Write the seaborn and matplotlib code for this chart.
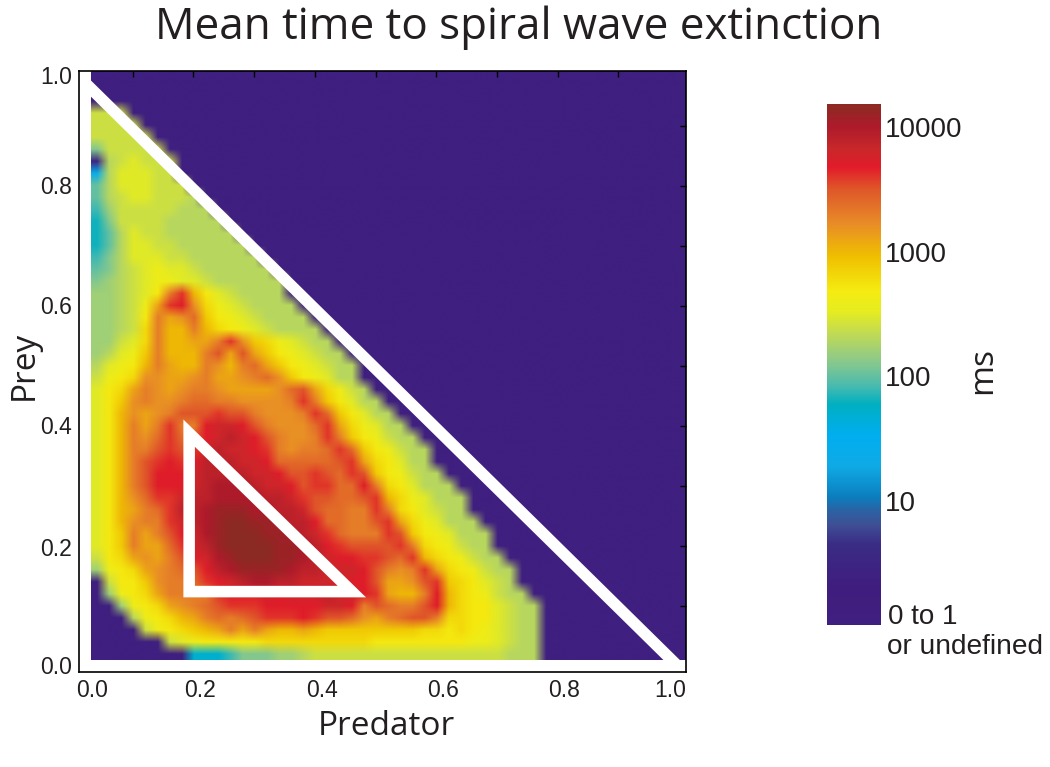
import numpy as np
import pandas as pd
import seaborn as sns
import matplotlib.pyplot as plt
from matplotlib.colors import LinearSegmentedColormap
from matplotlib.patches import Polygon
from matplotlib.transforms import ScaledTranslation

# mean extinction time as 10*log10(ms), rows from prey high to prey low, one list per row
# background rows above the first one listed are all "0 to 1 or undefined"
rows_top = [
    [0], [0], [0],
    [24, 24, 24],
    [24, 24, 24, 24],
    [24, 24, 24, 24, 24],
    [21, 24, 24, 24, 24, 24],
    [5, 23, 24, 25, 24, 24, 24],
    [14, 23, 25, 25, 25, 24, 24],
    [20, 23, 25, 25, 25, 24, 24, 24],
    [20, 23, 24, 25, 25, 24, 24, 24, 23],
    [19, 22, 24, 24, 24, 24, 24, 23, 23, 23],
    [18, 21, 24, 24, 24, 24, 23, 23, 23, 23, 23],
    [18, 20, 23, 25, 24, 24, 23, 23, 23, 23, 23, 23],
    [18, 20, 23, 25, 25, 24, 24, 23, 23, 23, 23, 23, 23],
    [19, 21, 23, 25, 25, 25, 24, 24, 23, 23, 23, 23, 23, 23],
    [20, 21, 23, 24, 25, 26, 25, 25, 24, 23, 23, 23, 23, 23, 23],
    [21, 22, 23, 24, 25, 26, 26, 25, 25, 24, 23, 23, 23, 23, 23, 23],
]
rows_mid = [
    [22, 22, 23, 24, 25, 27, 33, 36, 30, 27, 25, 24, 23, 23, 23, 23],
    [22, 22, 23, 24, 26, 31, 36, 37, 32, 28, 26, 25, 24, 23, 23, 23, 23],
    [22, 22, 23, 24, 27, 33, 31, 32, 34, 29, 27, 26, 25, 24, 23, 23, 23, 23],
    [22, 22, 23, 24, 28, 33, 30, 30, 33, 30, 28, 27, 26, 25, 24, 23, 23, 23, 23],
    [22, 22, 24, 25, 28, 33, 30, 30, 31, 31, 33, 36, 32, 29, 28, 26, 25, 24, 23, 23],
    [22, 23, 25, 26, 29, 33, 30, 30, 30, 33, 35, 31, 35, 31, 29, 27, 26, 25, 24, 23, 23],
    [23, 25, 26, 27, 30, 33, 31, 30, 30, 33, 32, 30, 33, 34, 31, 29, 27, 26, 25, 24, 23, 23],
    [24, 26, 27, 28, 32, 32, 31, 31, 32, 33, 31, 31, 32, 33, 34, 32, 29, 27, 26, 25, 23, 23],
    [25, 27, 28, 31, 33, 32, 31, 32, 33, 33, 32, 31, 31, 31, 31, 32, 34, 35, 31, 28, 26, 24, 23],
    [25, 27, 29, 32, 33, 32, 32, 33, 34, 34, 33, 33, 32, 32, 32, 32, 33, 36, 33, 29, 27, 25, 23, 23],
    [25, 27, 30, 32, 31, 32, 33, 35, 35, 35, 36, 35, 35, 33, 32, 32, 32, 33, 36, 34, 29, 27, 25, 23, 23],
    [25, 27, 30, 33, 31, 33, 36, 33, 33, 37, 38, 38, 37, 35, 33, 32, 32, 32, 34, 36, 31, 28, 26, 25, 23, 23],
    [25, 27, 30, 33, 32, 34, 36, 34, 35, 37, 38, 39, 38, 37, 35, 33, 32, 32, 33, 36, 33, 29, 27, 26, 24, 23, 23],
]
rows_hot = [
    [25, 27, 30, 33, 33, 35, 36, 35, 36, 38, 39, 38, 38, 37, 36, 33, 32, 33, 33, 34, 36, 34, 29, 27, 26, 24, 23, 23],
    [25, 27, 30, 33, 35, 36, 37, 36, 37, 39, 39, 39, 38, 38, 37, 34, 34, 34, 34, 34, 35, 36, 31, 28, 27, 25, 23, 23],
    [25, 27, 30, 33, 35, 37, 37, 37, 38, 39, 39, 39, 39, 38, 38, 37, 35, 35, 36, 35, 34, 36, 35, 29, 27, 26, 24, 23, 23],
    [25, 27, 30, 33, 35, 37, 37, 37, 38, 39, 40, 40, 40, 39, 38, 38, 37, 35, 36, 36, 34, 34, 37, 33, 28, 27, 25, 23, 23, 23],
    [25, 27, 30, 32, 34, 36, 36, 38, 39, 39, 40, 40, 40, 40, 39, 39, 38, 36, 35, 35, 34, 34, 35, 36, 30, 28, 26, 25, 23, 23, 23],
    [25, 27, 30, 31, 33, 34, 36, 39, 39, 40, 41, 41, 41, 40, 40, 39, 39, 38, 35, 34, 34, 33, 33, 36, 33, 28, 27, 25, 24, 23, 23],
    [25, 27, 30, 32, 33, 33, 36, 38, 39, 40, 41, 42, 42, 41, 41, 40, 39, 39, 37, 34, 34, 33, 33, 35, 36, 31, 28, 26, 25, 23, 23, 23],
    [25, 27, 29, 33, 31, 33, 35, 37, 38, 40, 41, 42, 42, 42, 41, 41, 40, 39, 38, 36, 34, 33, 33, 33, 36, 35, 29, 27, 26, 25, 23, 23, 23],
    [25, 27, 29, 33, 31, 31, 34, 36, 38, 39, 41, 42, 42, 42, 42, 41, 41, 40, 39, 37, 36, 35, 35, 35, 35, 36, 33, 28, 27, 26, 24, 23, 23],
    [24, 27, 28, 31, 32, 31, 33, 35, 37, 38, 40, 41, 42, 42, 42, 41, 41, 40, 39, 38, 37, 37, 36, 36, 35, 34, 36, 30, 28, 27, 26, 24, 23, 23],
]
rows_low = [
    [22, 26, 27, 28, 31, 32, 33, 34, 35, 37, 39, 40, 41, 41, 41, 41, 40, 39, 39, 38, 38, 38, 37, 35, 33, 32, 33, 36, 31, 28, 27, 26, 24, 23, 23],
    [0, 24, 27, 27, 29, 32, 33, 33, 34, 36, 37, 38, 39, 40, 40, 39, 39, 38, 38, 38, 38, 37, 37, 35, 31, 31, 32, 35, 36, 29, 28, 27, 25, 24, 23],
    [0, 22, 26, 27, 28, 31, 33, 33, 33, 33, 36, 37, 37, 37, 38, 37, 38, 38, 38, 39, 38, 38, 37, 36, 31, 30, 30, 33, 37, 30, 28, 27, 26, 24, 23, 23],
    [0, 0, 22, 26, 27, 28, 31, 32, 33, 34, 35, 36, 36, 36, 37, 37, 37, 37, 37, 38, 38, 37, 33, 35, 34, 33, 33, 35, 37, 30, 28, 27, 27, 25, 24, 23, 23],
    [0, 0, 0, 23, 26, 27, 28, 30, 31, 33, 34, 33, 34, 35, 36, 36, 36, 37, 36, 35, 35, 34, 32, 31, 33, 34, 35, 35, 33, 28, 28, 27, 27, 25, 24, 23, 23],
    [0, 0, 0, 0, 24, 26, 27, 28, 29, 30, 31, 33, 31, 33, 31, 30, 30, 31, 30, 29, 29, 29, 29, 29, 29, 29, 29, 28, 28, 27, 28, 27, 26, 25, 24, 23, 23],
    [0, 0, 0, 0, 0, 0, 24, 25, 26, 27, 27, 27, 27, 27, 28, 28, 28, 28, 28, 28, 28, 28, 28, 27, 27, 27, 27, 27, 27, 27, 27, 26, 26, 25, 24, 23, 23],
    [0, 0, 0, 0, 0, 0, 0, 0, 17, 17, 17, 19, 21, 21, 21, 22, 22, 23, 24, 24, 24, 24, 24, 24, 24, 24, 24, 24, 24, 24, 24, 24, 24, 24, 23, 23, 23],
]

# colour bar stops: log10(ms) and colour
cbar_stops = [0.0, 0.3, 0.65, 0.8, 0.92, 1.03, 1.27, 1.53, 1.77, 1.92, 2.12, 2.32, 2.52, 2.68, 2.97, 3.23, 3.49, 3.68, 3.83, 4.0, 4.185]
cbar_colors = ["#3F1F7F", "#3F1D7E", "#3A2C85", "#3F4F95", "#2A63A4", "#0B7EBE", "#0FAAE5", "#00AEEF",
               "#00AFC0", "#48BAB0", "#8BC98A", "#BCD85A", "#E5EC20", "#F5EC11", "#EFBE00", "#E88B28",
               "#DF5A29", "#E21B2A", "#C8282A", "#AE1A2B", "#8B2A22"]
cbar_ticks = [0.09, 1, 2, 3, 4]
cbar_labels = ["0 to 1", "10", "100", "1000", "10000"]

tick_labels = ["0.0", "0.2", "0.4", "0.6", "0.8", "1.0"]
x_label_px = [92, 200, 322, 443, 564, 670]
y_label_px = [665, 547, 425, 305, 185, 75]

# white triangles, in (predator, prey)
outer_line = [(0.0115, 0.982), (1.021, -0.023)]
inner_triangle = [(0.193, 0.388), (0.193, 0.124), (0.461, 0.124)]

n = 50
W, H = 1050, 767
L, R, T, B = 79, 686, 71, 672

grid = np.zeros((n, n))
for i, row in enumerate(rows_top + rows_mid + rows_hot + rows_low):
    grid[i, 1:len(row) + 1] = row
grid = grid / 10
# the first column and last row are left blank in the figure, keep neighbours for the smoothing
smooth = grid.copy()
smooth[:, 0] = smooth[:, 1]
smooth[-1, :] = smooth[-2, :]
smooth[-1, 0] = smooth[-2, 1]
grid[:, 0] = np.nan
grid[-1, :] = np.nan
df = pd.DataFrame(grid)

cmap = LinearSegmentedColormap.from_list(
    "ms", [((s - 0) / 4.185, c) for s, c in zip(cbar_stops, cbar_colors)], N=512)
cmap.set_bad("white")

sns.set_theme(style="white")
plt.rcParams['font.family'] = ['Liberation Sans', 'DejaVu Sans']

fig = plt.figure(figsize=(W / 100, H / 100), dpi=100)
ax = fig.add_axes([L / W, 1 - B / H, (R - L) / W, (B - T) / H])
cax = fig.add_axes([827 / W, 1 - 625 / H, 54 / W, 521 / H])

sns.heatmap(df, cmap=cmap, vmin=0, vmax=4.185, ax=ax, cbar_ax=cax,
            cbar_kws={"ticks": cbar_ticks}, xticklabels=False, yticklabels=False)
# reference is a smoothed image, so soften the cells
ax.imshow(smooth, cmap=cmap, vmin=0, vmax=4.185, extent=(0, n, n, 0), aspect="auto",
          interpolation="bilinear", interpolation_stage="rgba", zorder=1.5)
ax.axvspan(0, 1, color="white", lw=0, zorder=1.8)
ax.axhspan(n - 1, n, color="white", lw=0, zorder=1.8)
ax.set_xlim(0, n)
ax.set_ylim(n, 0)
ax.set_axisbelow(False)


# pixel and predator/prey positions to heatmap cells
def xpx(x):
    return (x - L) / (R - L) * n


def ypx(y):
    return (y - T) / (B - T) * n


def xdata(p):
    return xpx(72 + 607 * p)


def ydata(q):
    return ypx(666 - 600 * q)


ax.plot([xdata(p) for p, q in outer_line], [ydata(q) for p, q in outer_line],
        color="white", lw=8.3, solid_capstyle="butt", zorder=2)
ax.add_patch(Polygon([(xdata(p), ydata(q)) for p, q in inner_triangle], closed=True,
                     fill=False, ec="white", lw=8.3, joinstyle="miter", zorder=2))

ax.set_xticks([xpx(x) for x in x_label_px], tick_labels)
ax.set_yticks([ypx(y) for y in y_label_px], tick_labels)
ax.set_xticks([xdata(k / 10) for k in range(1, 10)], minor=True)
ax.set_yticks([ydata(k / 10) for k in range(1, 10)], minor=True)
ax.tick_params(which="major", length=0, labelsize=16.5, colors="#231F20", pad=5,
               labelbottom=True, labelleft=True, left=False, bottom=False)
ax.tick_params(which="minor", direction="in", length=4, width=1, color="black",
               top=True, right=True, bottom=False, left=False)
for s in ax.spines.values():
    s.set_visible(True)
    s.set_color("black")
    s.set_linewidth(1.2)

cax.set_yticklabels(cbar_labels)
cax.tick_params(length=0, labelsize=20, colors="#231F20", pad=3)
cax.collections[0].set_edgecolor("none")
for s in cax.spines.values():
    s.set_visible(False)
first = cax.get_yticklabels()[0]
first.set_transform(first.get_transform() + ScaledTranslation(2.5 / 100, 0, fig.dpi_scale_trans))
fig.text(887 / W, 1 - 647 / H, "or undefined", fontsize=20.2, color="#231F20", va="center", ha="left")

label_font = ['Open Sans', 'DejaVu Sans']
fig.text(519 / W, 1 - 39 / H, "Mean time to spiral wave extinction", fontsize=31.7, color="#231F20",
         ha="center", va="baseline", family=label_font)
fig.text(386 / W, 1 - 735 / H, "Predator", fontsize=24, color="#231F20",
         ha="center", va="baseline", family=label_font)
fig.text(24 / W, 1 - 365 / H, "Prey", fontsize=24, color="#231F20", rotation=90,
         ha="center", va="center", family=label_font)
fig.text(983 / W, 1 - 370 / H, "ms", fontsize=24, color="#231F20", rotation=90,
         ha="center", va="center", family=label_font)

fig.savefig("out.png", dpi=100, facecolor="white")
